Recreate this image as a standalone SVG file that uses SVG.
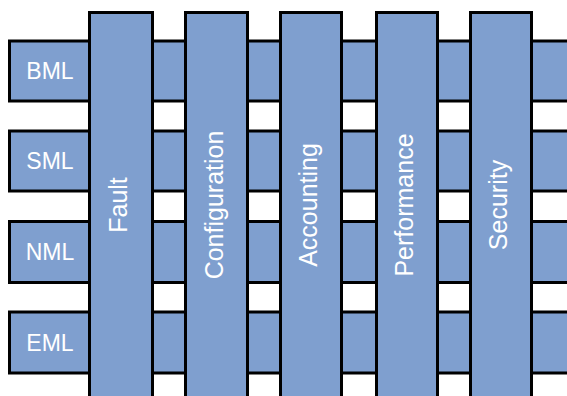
<svg xmlns="http://www.w3.org/2000/svg" width="567" height="396" viewBox="0 0 567 396">
<style>
.bar{fill:#7f9fcf;stroke:#000;stroke-width:3}
.lbl{font-family:"Liberation Sans",Arial,sans-serif;fill:#fff;text-anchor:middle}
.h{font-size:23px}
.v{font-size:25px}
</style>
<rect width="567" height="396" fill="#fff"/>
<g id="layers">
<g id="BML"><rect class="bar" x="9.5" y="41" width="570" height="60"/><text class="lbl h" x="50" y="78.5">BML</text></g>
<g id="SML"><rect class="bar" x="9.5" y="131" width="570" height="60"/><text class="lbl h" x="50" y="168.5">SML</text></g>
<g id="NML"><rect class="bar" x="9.5" y="221.5" width="570" height="61"/><text class="lbl h" x="50" y="260">NML</text></g>
<g id="EML"><rect class="bar" x="9.5" y="312" width="570" height="61"/><text class="lbl h" x="50" y="351">EML</text></g>
</g>
<g id="functions">
<g id="Fault"><rect class="bar" x="89.5" y="12.5" width="63" height="400"/><text class="lbl v" transform="translate(127,205) rotate(-90)">Fault</text></g>
<g id="Configuration"><rect class="bar" x="185.5" y="12.5" width="62" height="400"/><text class="lbl v" transform="translate(222.5,205) rotate(-90)">Configuration</text></g>
<g id="Accounting"><rect class="bar" x="280.5" y="12.5" width="61" height="400"/><text class="lbl v" transform="translate(317,205) rotate(-90)">Accounting</text></g>
<g id="Performance"><rect class="bar" x="376.5" y="12.5" width="61" height="400"/><text class="lbl v" transform="translate(413,205) rotate(-90)">Performance</text></g>
<g id="Security"><rect class="bar" x="470.5" y="12.5" width="61" height="400"/><text class="lbl v" transform="translate(507,205) rotate(-90)">Security</text></g>
</g>
<g id="connectors"/>
</svg>
